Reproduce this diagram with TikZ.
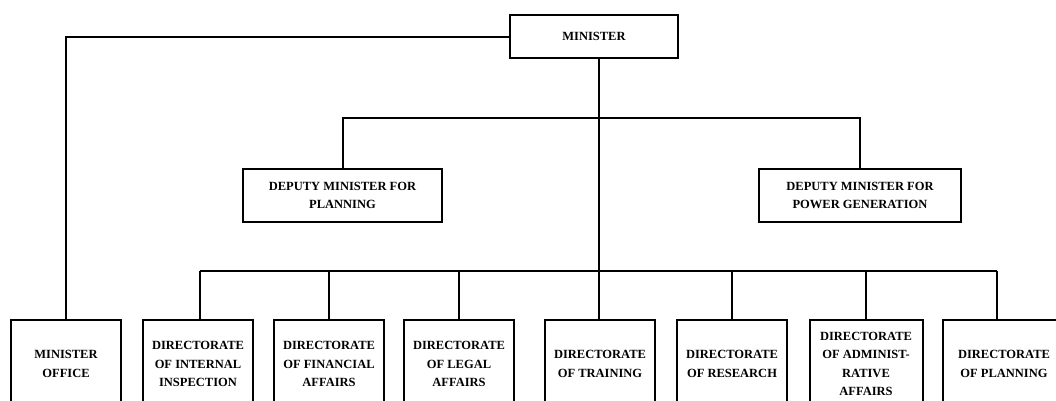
\documentclass[tikz,border=0pt]{standalone}
\usepackage{fontspec}
\setmainfont{Liberation Serif}
\usetikzlibrary{positioning}

\tikzset{
  unit/.style={draw,line width=2pt,align=center,inner sep=0pt,
    font=\fontsize{12.5}{18.5}\selectfont\bfseries},
  dirbox/.style={unit,minimum width=110pt,minimum height=88pt}
}

\begin{document}
\begin{tikzpicture}[x=1pt,y=-1pt,line width=2pt]
  \useasboundingbox (0,0) rectangle (1056,400);
  % top
  \node[unit,minimum width=168pt,minimum height=43pt] (min) at (594,36.5) {MINISTER};
  \node[unit,minimum width=199pt,minimum height=53pt] (depplan) at (342.5,195.5) {DEPUTY MINISTER FOR\\PLANNING};
  \node[unit,minimum width=202pt,minimum height=53pt] (deppow) at (860,195.5) {DEPUTY MINISTER FOR\\POWER GENERATION};
  \coordinate (depbus) at (599,118);
  \coordinate (dirbus) at (599,271);
  % bottom row
  \node[dirbox] (office) at (66,364) {MINISTER\\OFFICE};
  \node[dirbox] (insp) at (198,364) {DIRECTORATE\\OF INTERNAL\\INSPECTION};
  \node[dirbox] (fin) at (329,364) {DIRECTORATE\\OF FINANCIAL\\AFFAIRS};
  \node[dirbox] (legal) at (459,364) {DIRECTORATE\\OF LEGAL\\AFFAIRS};
  \node[dirbox] (train) at (600,364) {DIRECTORATE\\OF TRAINING};
  \node[dirbox] (res) at (732,364) {DIRECTORATE\\OF RESEARCH};
  \node[dirbox,minimum width=113pt] (admin) at (866,364) {DIRECTORATE\\OF ADMINIST-\\RATIVE\\AFFAIRS};
  \node[dirbox,minimum width=122pt] (plan) at (1004,364) {DIRECTORATE\\OF PLANNING};
  % lines
  \draw (min.west) -| (office.north);
  \draw (min.south -| dirbus) -- (train.north -| dirbus);
  \draw (depplan.north) |- (depbus) -| (deppow.north);
  \draw ([xshift=2pt]insp.north |- dirbus) -- ([xshift=-7pt]plan.north |- dirbus);
  \foreach \d in {fin,legal,res,admin}
    {\draw (\d.north) -- (\d.north |- dirbus);}
  \draw ([xshift=2pt]insp.north) -- ([xshift=2pt]insp.north |- dirbus);
  \draw ([xshift=-7pt]plan.north) -- ([xshift=-7pt]plan.north |- dirbus);
\end{tikzpicture}
\end{document}
